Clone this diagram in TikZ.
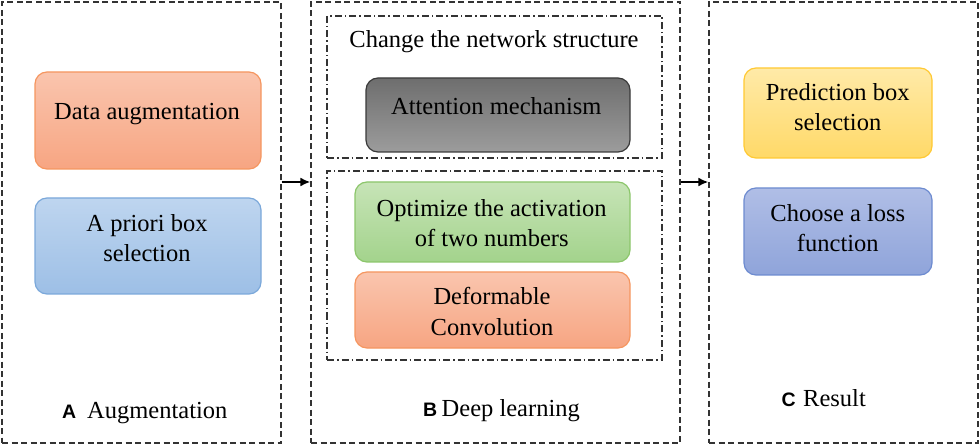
\documentclass[tikz,border=0pt]{standalone}
\usepackage{fontspec}
\setmainfont{Liberation Serif}
\newfontfamily\lsans{Liberation Sans}
\usetikzlibrary{arrows.meta}
\definecolor{orTop}{HTML}{FAC5AE}
\definecolor{orBot}{HTML}{F7A582}
\definecolor{orLine}{HTML}{F59660}
\definecolor{blTop}{HTML}{BED5EF}
\definecolor{blBot}{HTML}{9DBFE6}
\definecolor{blLine}{HTML}{7BA8DA}
\definecolor{gyTop}{HTML}{6E6E6E}
\definecolor{gyBot}{HTML}{9C9C9C}
\definecolor{gyLine}{HTML}{3A3A3A}
\definecolor{grTop}{HTML}{C7E4B7}
\definecolor{grBot}{HTML}{A3D38C}
\definecolor{grLine}{HTML}{8CC66B}
\definecolor{ylTop}{HTML}{FFEAA8}
\definecolor{ylBot}{HTML}{FFD968}
\definecolor{ylLine}{HTML}{FFC933}
\definecolor{puTop}{HTML}{B0BEE6}
\definecolor{puBot}{HTML}{8FA4DA}
\definecolor{puLine}{HTML}{6D8BD0}
\tikzset{
  panel/.style={draw=black!80, line width=1.2pt, dash pattern=on 6pt off 3.5pt, inner sep=0pt},
  subpanel/.style={draw=black!80, line width=1.1pt, dash pattern=on 7pt off 3pt on 1.5pt off 3pt, inner sep=0pt},
  rbox/.style={rounded corners=12pt, line width=1.2pt, inner sep=0pt},
  orbox/.style={rbox, draw=orLine, top color=orTop, bottom color=orBot},
  blbox/.style={rbox, draw=blLine, top color=blTop, bottom color=blBot},
  gybox/.style={rbox, draw=gyLine, top color=gyTop, bottom color=gyBot},
  grbox/.style={rbox, draw=grLine, top color=grTop, bottom color=grBot},
  ylbox/.style={rbox, draw=ylLine, top color=ylTop, bottom color=ylBot},
  pubox/.style={rbox, draw=puLine, top color=puTop, bottom color=puBot},
  txt/.style={anchor=base, inner sep=0pt, font=\fontsize{24.5}{30}\selectfont, text=black},
  ltxt/.style={anchor=base west, inner sep=0pt, font=\fontsize{24.5}{30}\selectfont, text=black},
  letter/.style={anchor=base west, inner sep=0pt, font=\lsans\bfseries\fontsize{19.5}{23}\selectfont},
  arr/.style={line width=2pt, -{Latex[length=10pt,width=9pt]}}
}
\begin{document}
\begin{tikzpicture}[x=1pt,y=-1pt]
\useasboundingbox (0,0) rectangle (980,446);
% panels
\node[panel, minimum width=279pt, minimum height=441pt] (pA) at (141.5,222.5) {};
\node[panel, minimum width=369pt, minimum height=441pt] (pB) at (495.5,222.5) {};
\node[panel, minimum width=269pt, minimum height=441pt] (pC) at (843.5,222.5) {};
\node[subpanel, minimum width=335pt, minimum height=142pt] (sB1) at (494.5,87) {};
\node[subpanel, minimum width=335pt, minimum height=189pt] (sB2) at (494.5,265.5) {};
% boxes
\node[orbox, minimum width=226pt, minimum height=97pt] (da) at (148,120.5) {};
\node[blbox, minimum width=226pt, minimum height=96pt] (ap) at (148,246) {};
\node[gybox, minimum width=264pt, minimum height=74pt] (att) at (498,115) {};
\node[grbox, minimum width=275pt, minimum height=80pt] (opt) at (492.5,222) {};
\node[orbox, minimum width=275pt, minimum height=76pt] (def) at (492.5,310) {};
\node[ylbox, minimum width=188pt, minimum height=90pt] (pred) at (838,113) {};
\node[pubox, minimum width=188pt, minimum height=87pt] (loss) at (838,231.5) {};
% texts
\node[txt] (tda) at (147,119.3) {Data augmentation};
\node[txt] (tap1) at (147,231.7) {A priori box};
\node[txt] (tap2) at (147,261.7) {selection};
\node[txt] (tch) at (494,47.7) {Change the network structure};
\node[txt] (tatt) at (496.3,115) {Attention mechanism};
\node[txt] (topt1) at (491.7,216.7) {Optimize the activation};
\node[txt] (topt2) at (491.7,246.7) {of two numbers};
\node[txt] (tdef1) at (492,305) {Deformable};
\node[txt] (tdef2) at (492,335) {Convolution};
\node[txt] (tpr1) at (837.7,100.7) {Prediction box};
\node[txt] (tpr2) at (837.7,131) {selection};
\node[txt] (tlo1) at (837.8,221.7) {Choose a loss};
\node[txt] (tlo2) at (837.8,251.7) {function};
% panel labels
\node[letter] (lA) at (62,418.3) {A};
\node[ltxt] (nA) at (87,418.3) {Augmentation};
\node[letter] (lB) at (423,416.7) {B};
\node[ltxt] (nB) at (441.5,416.7) {Deep learning};
\node[letter] (lC) at (781.5,406.7) {C};
\node[ltxt] (nC) at (803,406.7) {Result};
% arrows
\coordinate (ay) at (0,182);
\draw[arr] (pA.east |- ay) -- (pB.west |- ay);
\draw[arr] (pB.east |- ay) -- (pC.west |- ay);
\end{tikzpicture}
\end{document}
